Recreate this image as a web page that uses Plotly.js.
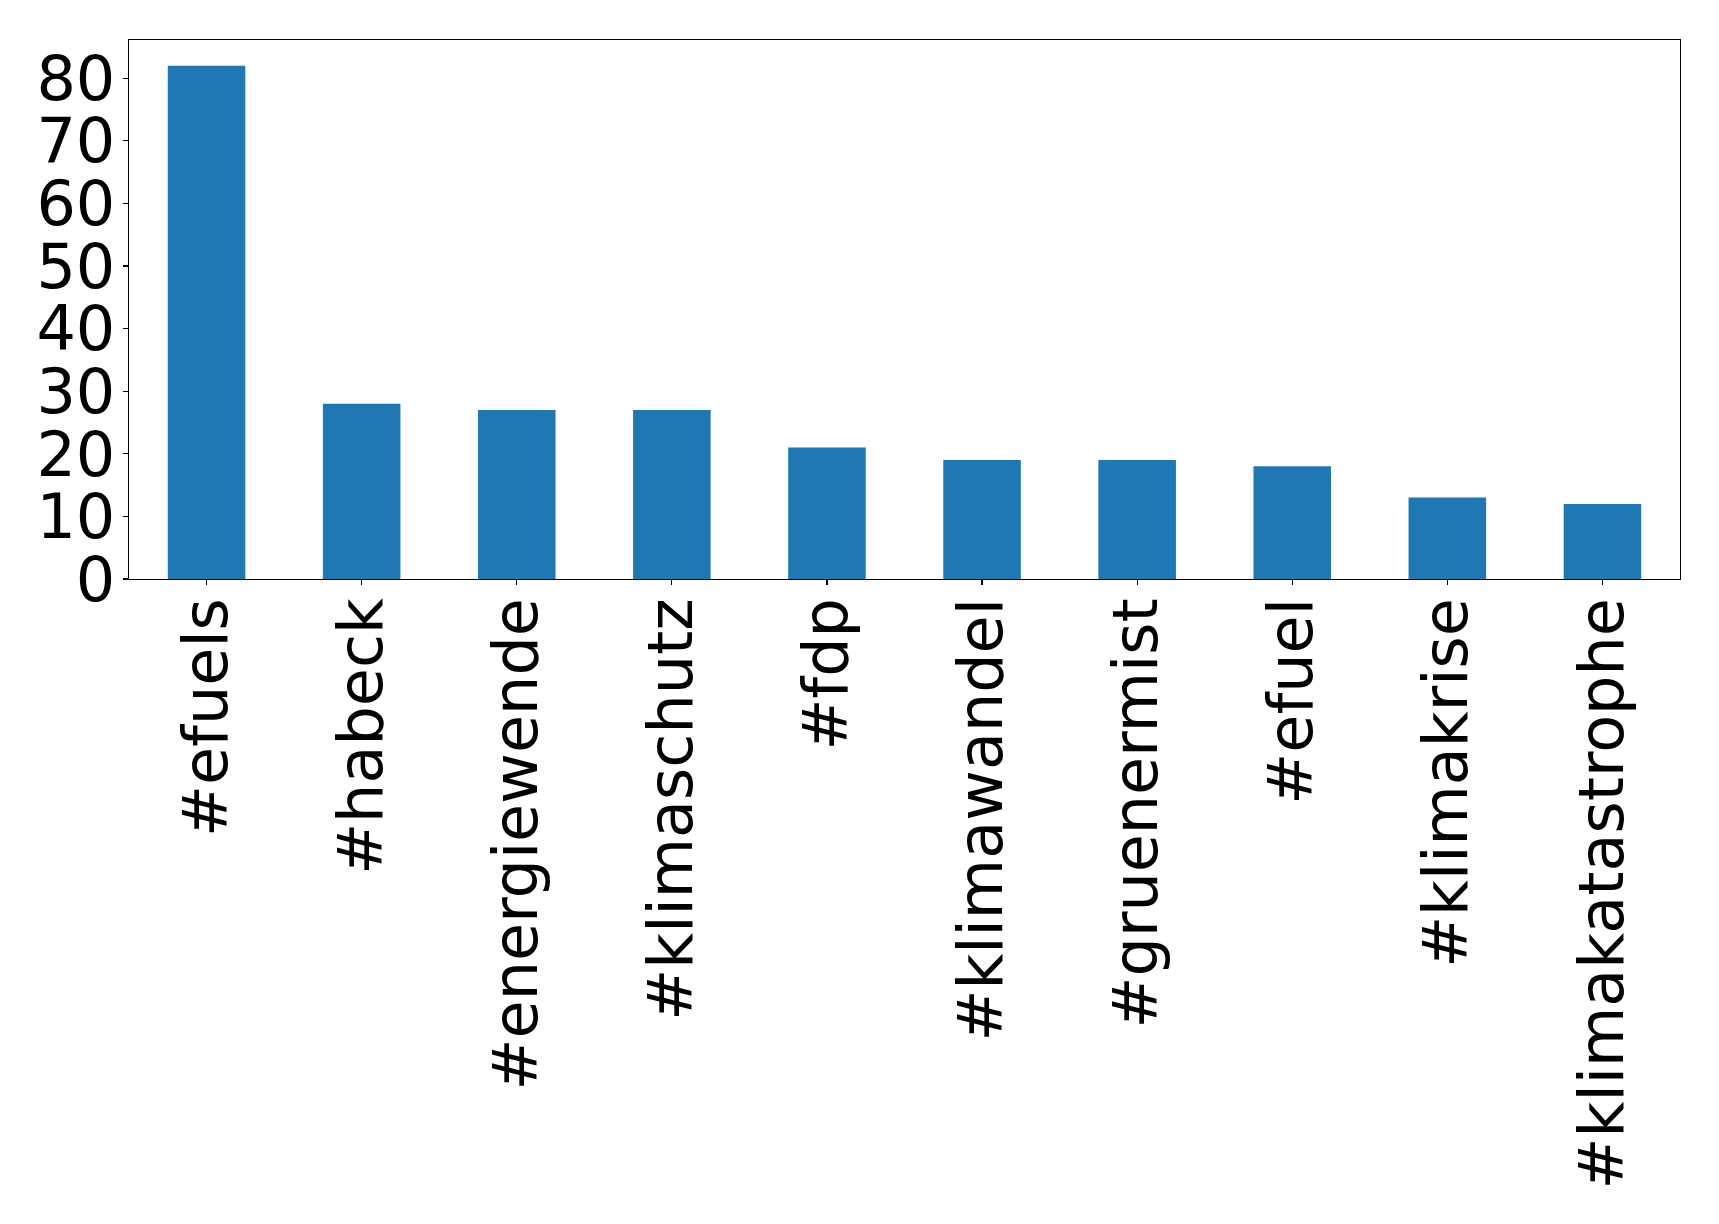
<!DOCTYPE html>
<html>
<head>
<meta charset="utf-8">
<script src="https://cdn.plot.ly/plotly-3.0.1.min.js"></script>
<style>html,body{margin:0;padding:0;background:#fff;}#chart{width:1719px;height:1224px;}</style>
</head>
<body>
<div id="chart"></div>
<script>
const hashtags = ["#efuels", "#habeck", "#energiewende", "#klimaschutz", "#fdp", "#klimawandel", "#gruenermist", "#efuel", "#klimakrise", "#klimakatastrophe"];
const counts = [82, 28, 27, 27, 21, 19, 19, 18, 13, 12];
const yTicks = [0, 10, 20, 30, 40, 50, 60, 70, 80];

const trace = {
  type: "bar",
  x: hashtags,
  y: counts,
  width: 0.5,
  marker: {color: "#1f77b4", line: {width: 0}},
  hoverinfo: "x+y"
};

const layout = {
  width: 1719,
  height: 1224,
  paper_bgcolor: "#ffffff",
  plot_bgcolor: "#ffffff",
  margin: {l: 129, r: 39, t: 40, b: 645, pad: 0},
  showlegend: false,
  font: {family: "DejaVu Sans", color: "#000000", size: 62},
  xaxis: {
    type: "category",
    range: [-0.5, 9.5],
    tickangle: -90,
    ticks: "outside",
    ticklen: 5,
    tickwidth: 1.3,
    tickcolor: "#000",
    ticklabelstandoff: -12,
    showline: true,
    linecolor: "#000",
    linewidth: 1.3,
    mirror: true,
    showgrid: false,
    zeroline: false,
    tickfont: {family: "DejaVu Sans", size: 62, color: "#000"}
  },
  yaxis: {
    range: [0, 86.1],
    tickvals: yTicks,
    ticktext: yTicks.map(String),
    ticks: "outside",
    ticklen: 5,
    tickwidth: 1.3,
    tickcolor: "#000",
    ticklabelstandoff: -5,
    showline: true,
    linecolor: "#000",
    linewidth: 1.3,
    mirror: true,
    showgrid: false,
    zeroline: false,
    tickfont: {family: "DejaVu Sans", size: 62, color: "#000"}
  }
};

Plotly.newPlot("chart", [trace], layout, {displayModeBar: false, staticPlot: true});
</script>
</body>
</html>
